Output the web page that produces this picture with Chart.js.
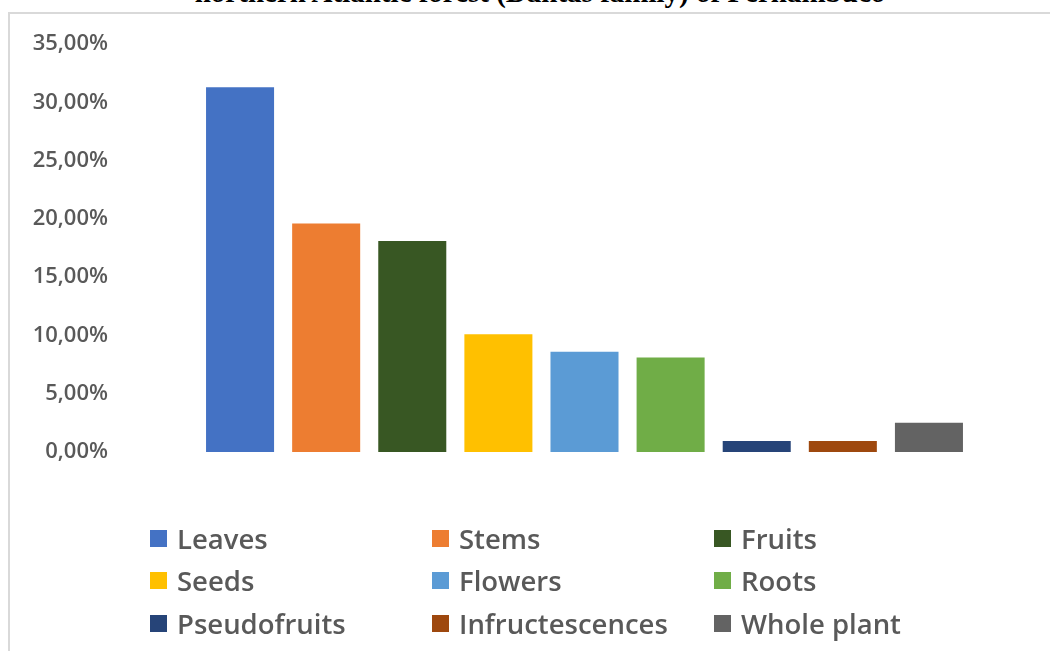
<!DOCTYPE html>
<html>
<head>
<meta charset="utf-8">
<script src="https://cdn.jsdelivr.net/npm/chart.js@4"></script>
<style>
    html, body { margin: 0; padding: 0; background: #fff; overflow: hidden; }
    #wrap { position: relative; width: 1050px; height: 651px; }
    #frame { position: absolute; left: 8px; top: 12px; width: 1100px; height: 700px;
             border-left: 2px solid #d9d9d9; border-top: 2px solid #d9d9d9; }
    #title { position: absolute; left: 0; top: -22px; width: 1080px; text-align: center;
             font: bold 29px/29px "Liberation Serif", serif; color: #000; white-space: nowrap; }
    #chartBox { position: absolute; left: 0; top: 0; width: 1050px; height: 651px; }
    #legend { position: absolute; left: 150px; top: 517px; display: grid;
              grid-template-columns: 282px 282px 282px; row-gap: 0; }
    .item { display: flex; align-items: center; height: 42.5px;
            font: 600 27.5px "Open Sans", sans-serif; color: #595959; }
    .sw { width: 17px; height: 17px; margin-right: 10px; }
</style>
</head>
<body>
<div id="wrap">
    <div id="frame"></div>
    <div id="title">northern Atlantic forest (Dantas family) of Pernambuco</div>
    <div id="chartBox"><canvas id="chart"></canvas></div>
    <div id="legend"></div>
</div>
<script>
// Данные
const categories = ['Leaves', 'Stems', 'Fruits', 'Seeds', 'Flowers', 'Roots', 'Pseudofruits', 'Infructescences', 'Whole plant'];
const values = [31.3, 19.6, 18.1, 10.1, 8.6, 8.1, 0.95, 0.95, 2.5];
const colors = ['#4472C4', '#ED7D31', '#385723', '#FFC000', '#5B9BD5', '#70AD47', '#264478', '#9E480E', '#636363'];

// Легенда
const legend = document.getElementById('legend');
categories.forEach((name, i) => {
    legend.innerHTML += `<div class="item"><span class="sw" style="background:${colors[i]}"></span>${name}</div>`;
});

const ctx = document.getElementById('chart').getContext('2d');
new Chart(ctx, {
    type: 'bar',
    data: {
        labels: categories,
        datasets: [{
            data: values,
            backgroundColor: colors,
            borderWidth: 0,
            categoryPercentage: 1,
            barPercentage: 0.79
        }]
    },
    options: {
        responsive: true,
        maintainAspectRatio: false,
        animation: false,
        layout: { padding: { top: 44, bottom: 199, left: 0, right: 78 } },
        plugins: {
            legend: { display: false },
            tooltip: { enabled: false }
        },
        scales: {
            x: { display: false },
            y: {
                min: 0,
                max: 35,
                grid: { display: false, drawTicks: false },
                border: { display: false },
                afterFit: scale => {
                    scale.width = 197;
                    scale.paddingTop = 0;
                    scale.paddingBottom = 0;
                },
                ticks: {
                    stepSize: 5,
                    padding: 89,
                    color: '#595959',
                    font: { family: 'Open Sans', size: 22, weight: '600' },
                    callback: v => v.toFixed(2).replace('.', ',') + '%'
                }
            }
        }
    }
});
</script>
</body>
</html>
